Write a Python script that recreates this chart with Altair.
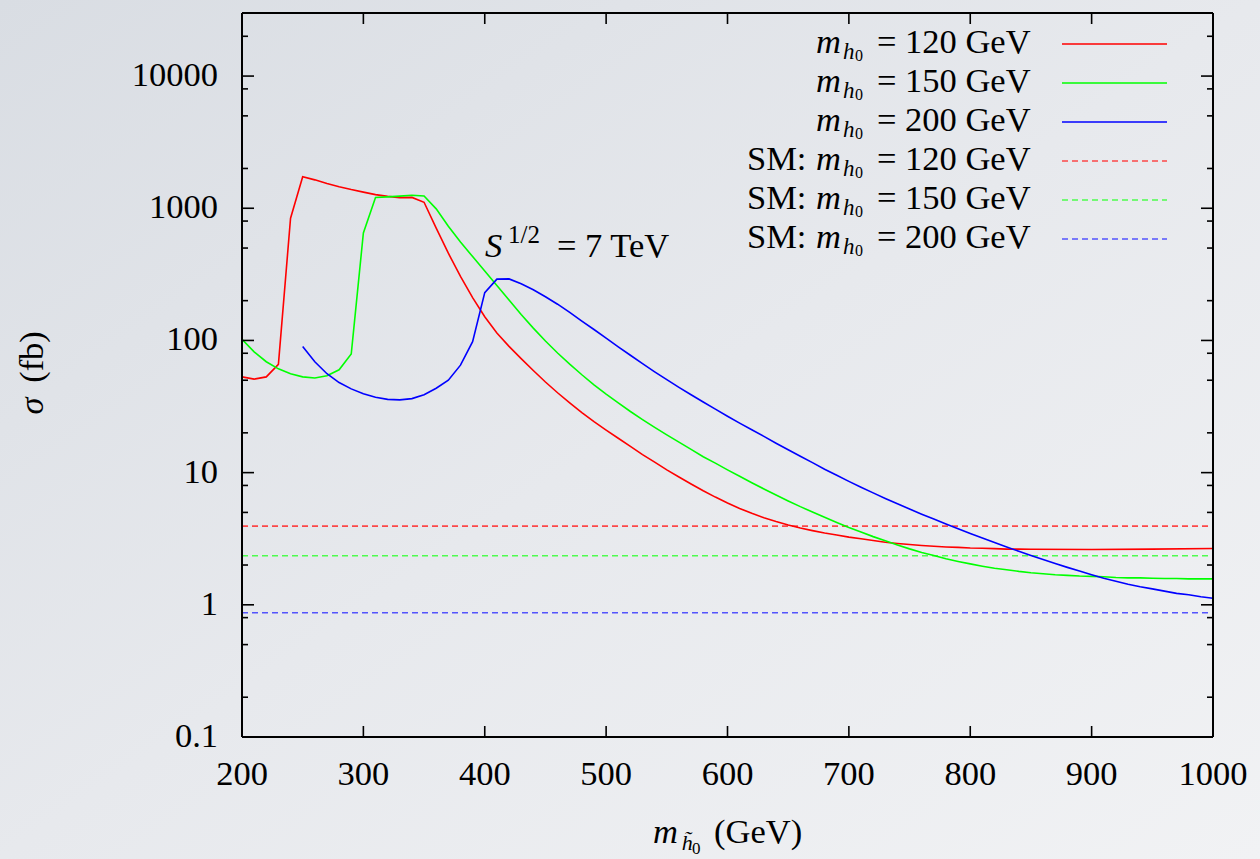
import altair as alt
import pandas as pd

FONT = "Liberation Serif"
FS = 34.5

# ---------------- data ----------------
mass_red = [200, 210, 220, 230, 240, 250, 260, 270, 280, 290, 300, 310, 320, 330, 340,
            350, 360, 370, 380, 390, 400, 410, 420, 430, 440, 450, 460, 470, 480, 490,
            500, 510, 520, 530, 540, 550, 560, 570, 580, 590, 600, 610, 620, 630, 640,
            650, 660, 670, 680, 690, 700, 710, 720, 730, 740, 750, 760, 770, 780, 790,
            800, 810, 820, 830, 840, 850, 900, 950, 1000]
sigma_red = [53, 51, 53, 66, 840, 1730, 1640, 1540, 1455, 1385, 1325, 1268, 1230, 1203, 1208,
             1110, 708, 457, 305, 211, 151, 114, 90.2, 72.8, 59.2, 48.5, 40.2, 33.7, 28.4, 24.3,
             21.0, 18.2, 15.8, 13.7, 12.0, 10.5, 9.27, 8.20, 7.29, 6.53, 5.89, 5.36, 4.92, 4.56, 4.27,
             4.02, 3.81, 3.64, 3.49, 3.37, 3.25, 3.16, 3.07, 2.97, 2.91, 2.86, 2.81, 2.77, 2.74, 2.72,
             2.69, 2.68, 2.66, 2.64, 2.64, 2.63, 2.62, 2.64, 2.67]

mass_green = [200, 210, 220, 230, 240, 250, 260, 270, 280, 290, 300, 310, 320, 330, 340,
              350, 360, 370, 380, 390, 400, 410, 420, 430, 440, 450, 460, 470, 480, 490,
              500, 510, 520, 530, 540, 550, 560, 570, 580, 590, 600, 610, 620, 630, 640,
              650, 660, 670, 680, 690, 700, 710, 720, 730, 740, 750, 760, 770, 780, 790,
              800, 810, 820, 830, 840, 850, 860, 870, 880, 890, 900, 910, 920, 930, 940,
              950, 960, 970, 980, 990, 1000]
sigma_green = [102, 82, 69, 61, 56, 53, 52, 54, 60, 79, 650, 1205, 1220, 1235, 1255,
               1240, 990, 730, 555, 431, 335, 260, 202, 157, 124, 99.1, 80.4, 66.1, 55.0, 46.2,
               39.3, 33.7, 29.0, 25.2, 22.0, 19.3, 17.0, 15.0, 13.2, 11.8, 10.5, 9.38, 8.39, 7.53, 6.78,
               6.11, 5.53, 5.04, 4.59, 4.20, 3.85, 3.55, 3.28, 3.05, 2.84, 2.65, 2.49, 2.36, 2.23, 2.13,
               2.04, 1.96, 1.89, 1.84, 1.79, 1.75, 1.72, 1.69, 1.67, 1.65, 1.64, 1.63, 1.61, 1.60, 1.60,
               1.59, 1.58, 1.58, 1.57, 1.57, 1.57]

mass_blue = [250, 260, 270, 280, 290, 300, 310, 320, 330, 340, 350, 360, 370, 380, 390,
             400, 410, 420, 430, 440, 450, 460, 470, 480, 490, 500, 510, 520, 530, 540,
             550, 560, 570, 580, 590, 600, 610, 620, 630, 640, 650, 660, 670, 680, 690,
             700, 710, 720, 730, 740, 750, 760, 770, 780, 790, 800, 810, 820, 830, 840,
             850, 860, 870, 880, 890, 900, 910, 920, 930, 940, 950, 960, 970, 980, 990, 1000]
sigma_blue = [90, 69, 56, 48, 43, 39.5, 37.2, 35.8, 35.5, 36.3, 38.8, 43.5, 50, 65, 98,
              230, 291, 292, 268, 242, 214, 188, 163, 140, 121, 104, 89.5, 77.3, 66.8, 57.9,
              50.5, 44.2, 38.8, 34.2, 30.2, 26.7, 23.7, 21.1, 18.8, 16.7, 14.9, 13.3, 11.9, 10.6, 9.55,
              8.59, 7.76, 7.03, 6.38, 5.81, 5.30, 4.85, 4.45, 4.08, 3.76, 3.47, 3.20, 2.96, 2.74, 2.54,
              2.36, 2.20, 2.05, 1.92, 1.80, 1.69, 1.59, 1.51, 1.43, 1.37, 1.32, 1.27, 1.22, 1.19, 1.15, 1.12]

sm_sigma = [3.94, 2.35, 0.87]
series_names = ["m120", "m150", "m200"]
series_colors = ["#ff0000", "#00ff00", "#0000ff"]
sm_colors = ["#ff2a2a", "#33ff33", "#3a3aff"]

legend_prefix = ["", "", "", "SM:", "SM:", "SM:"]
legend_rest = ["= 120 GeV", "= 150 GeV", "= 200 GeV", "= 120 GeV", "= 150 GeV", "= 200 GeV"]
legend_series = series_names + series_names
legend_kind = ["solid", "solid", "solid", "dash", "dash", "dash"]

x_ticks = [200, 300, 400, 500, 600, 700, 800, 900, 1000]
x_tick_labels = ["200", "300", "400", "500", "600", "700", "800", "900", "1000"]
y_major = [0.1, 1, 10, 100, 1000, 10000]
y_tick_labels = ["0.1", "1", "10", "100", "1000", "10000"]
y_minor = [0.2, 0.5, 0.8, 2, 5, 8, 20, 50, 80, 200, 500, 800, 2000, 5000, 8000, 20000]

# ---------------- layout ----------------
W, H = 971, 724
PAD = {"left": 242, "top": 13, "right": 47, "bottom": 122}

XS = alt.Scale(domain=[200, 1000], nice=False, zero=False)
YS = alt.Scale(type="log", domain=[0.1, 30000], nice=False)
CS = alt.Scale(domain=series_names, range=series_colors)
CS_SM = alt.Scale(domain=series_names, range=sm_colors)

curves = pd.concat([
    pd.DataFrame({"mass": mass_red, "sigma": sigma_red, "series": "m120"}),
    pd.DataFrame({"mass": mass_green, "sigma": sigma_green, "series": "m150"}),
    pd.DataFrame({"mass": mass_blue, "sigma": sigma_blue, "series": "m200"}),
], ignore_index=True)

sm_df = pd.DataFrame({"sigma": sm_sigma, "series": series_names})

one = pd.DataFrame({"a": [0]})

bg = alt.Chart(one).mark_rect(fill={
    "gradient": "linear", "x1": 0, "y1": 0, "x2": 1, "y2": 1,
    "stops": [{"offset": 0, "color": "#d9dde3"}, {"offset": 0.5, "color": "#e7e9ed"},
              {"offset": 1, "color": "#f1f2f4"}]}).encode(
    x=alt.value(-PAD["left"]), x2=alt.value(W + PAD["right"]),
    y=alt.value(-PAD["top"]), y2=alt.value(H + PAD["bottom"]))

sm_lines = alt.Chart(sm_df).mark_rule(strokeDash=[6, 4], strokeWidth=1.6, opacity=0.85).encode(
    y=alt.Y("sigma:Q", scale=YS, axis=None),
    x=alt.value(0), x2=alt.value(W),
    color=alt.Color("series:N", scale=CS_SM, legend=None))

lines = alt.Chart(curves).mark_line(strokeWidth=1.6, clip=True).encode(
    x=alt.X("mass:Q", scale=XS, axis=None),
    y=alt.Y("sigma:Q", scale=YS, axis=None),
    color=alt.Color("series:N", scale=CS, legend=None),
    detail="series:N")

xt_df = pd.DataFrame({"v": x_ticks, "lab": x_tick_labels})
ymaj_df = pd.DataFrame({"v": y_major, "lab": y_tick_labels})
ymin_df = pd.DataFrame({"v": y_minor})


def xtick(y0, y1):
    return alt.Chart(xt_df).mark_rule(color="black", strokeWidth=1.6).encode(
        x=alt.X("v:Q", scale=XS, axis=None), y=alt.value(y0), y2=alt.value(y1))


def ytick(df, x0, x1):
    return alt.Chart(df).mark_rule(color="black", strokeWidth=1.6).encode(
        y=alt.Y("v:Q", scale=YS, axis=None), x=alt.value(x0), x2=alt.value(x1))


ticks = [
    xtick(H, H - 11), xtick(0, 11),
    ytick(ymaj_df, 0, 12), ytick(ymaj_df, W, W - 12),
    ytick(ymin_df, 0, 6), ytick(ymin_df, W, W - 6),
]

tick_labels = [
    alt.Chart(xt_df).mark_text(font=FONT, fontSize=FS, color="black", align="center",
                               baseline="alphabetic").encode(
        x=alt.X("v:Q", scale=XS, axis=None), y=alt.value(785 - PAD["top"]), text="lab:N"),
    alt.Chart(ymaj_df).mark_text(font=FONT, fontSize=FS, color="black", align="right",
                                 baseline="middle").encode(
        y=alt.Y("v:Q", scale=YS, axis=None), x=alt.value(-24), text="lab:N"),
]

frame = [
    alt.Chart(one).mark_rule(color="black", strokeWidth=2).encode(
        x=alt.value(0), x2=alt.value(W), y=alt.value(0)),
    alt.Chart(one).mark_rule(color="black", strokeWidth=2).encode(
        x=alt.value(0), x2=alt.value(W), y=alt.value(H)),
    alt.Chart(one).mark_rule(color="black", strokeWidth=2).encode(
        y=alt.value(0), y2=alt.value(H), x=alt.value(0)),
    alt.Chart(one).mark_rule(color="black", strokeWidth=2).encode(
        y=alt.value(0), y2=alt.value(H), x=alt.value(W)),
]


def txt(text, x, y, size=FS, italic=False, align="left", angle=0):
    props = dict(text=text, font=FONT, fontSize=size, align=align,
                 baseline="alphabetic", color="black")
    if italic:
        props["fontStyle"] = "italic"
    if angle:
        props["angle"] = angle
    return alt.Chart(one).mark_text(**props).encode(x=alt.value(x), y=alt.value(y))


ox, oy = PAD["left"], PAD["top"]
texts = [
    # x-axis title: m_{h~0} (GeV)
    txt("m", 653 - ox, 843 - oy, italic=True),
    txt("h\u0303", 681.7 - ox, 850 - oy, size=22, italic=True),
    txt("0", 692 - ox, 854 - oy, size=17),
    txt("(GeV)", 714 - ox, 843 - oy),
    # y-axis title: sigma (fb)
    txt("\u03c3", 43 - ox, 406 - oy, italic=True, align="center", angle=270),
    txt("(fb)", 43 - ox, 357 - oy, align="center", angle=270),
    # annotation: S^{1/2} = 7 TeV
    txt("S", 485 - ox, 256.7 - oy, italic=True),
    txt("1/2", 508 - ox, 243 - oy, size=25),
    txt("= 7 TeV", 557 - ox, 256.7 - oy),
]

# legend
leg = pd.DataFrame({
    "prefix": legend_prefix, "rest": legend_rest, "series": legend_series,
    "kind": legend_kind, "row": list(range(6))})
leg["ly"] = 44 - oy + 39 * leg["row"]
leg["ty"] = leg["ly"] + 9

legend_layers = [
    alt.Chart(leg).mark_text(align="left", baseline="alphabetic", font=FONT, fontSize=FS,
                             color="black").encode(
        x=alt.value(747 - ox), y=alt.Y("ty:Q", scale=None), text="prefix:N"),
    alt.Chart(leg).mark_text(text="m", align="left", baseline="alphabetic", font=FONT,
                             fontSize=FS, fontStyle="italic", color="black").encode(
        x=alt.value(816 - ox), y=alt.Y("ty:Q", scale=None)),
    alt.Chart(leg).mark_text(text="h", align="left", baseline="alphabetic", font=FONT,
                             fontSize=23, fontStyle="italic", color="black", dy=6).encode(
        x=alt.value(843 - ox), y=alt.Y("ty:Q", scale=None)),
    alt.Chart(leg).mark_text(text="0", align="left", baseline="alphabetic", font=FONT,
                             fontSize=16, color="black", dy=7.5).encode(
        x=alt.value(855 - ox), y=alt.Y("ty:Q", scale=None)),
    alt.Chart(leg).mark_text(align="left", baseline="alphabetic", font=FONT, fontSize=FS,
                             color="black").encode(
        x=alt.value(877 - ox), y=alt.Y("ty:Q", scale=None), text="rest:N"),
    alt.Chart(leg).transform_filter("datum.kind == 'solid'").mark_rule(strokeWidth=1.6).encode(
        x=alt.value(1062 - ox), x2=alt.value(1167 - ox), y=alt.Y("ly:Q", scale=None),
        color=alt.Color("series:N", scale=CS, legend=None)),
    alt.Chart(leg).transform_filter("datum.kind == 'dash'").mark_rule(
        strokeWidth=1.6, strokeDash=[6, 4], opacity=0.85).encode(
        x=alt.value(1062 - ox), x2=alt.value(1167 - ox), y=alt.Y("ly:Q", scale=None),
        stroke=alt.Stroke("series:N", scale=CS_SM, legend=None)),
]

chart = alt.layer(bg, sm_lines, lines, *ticks, *frame, *tick_labels, *texts,
                  *legend_layers).resolve_scale(
    color="independent", stroke="independent"
).properties(
    width=W, height=H, padding=PAD, autosize=alt.AutoSizeParams(type="none")
).configure(background="#e8eaee").configure_view(stroke=None)

chart.save("out.html", embed_options={"renderer": "svg", "actions": False})
